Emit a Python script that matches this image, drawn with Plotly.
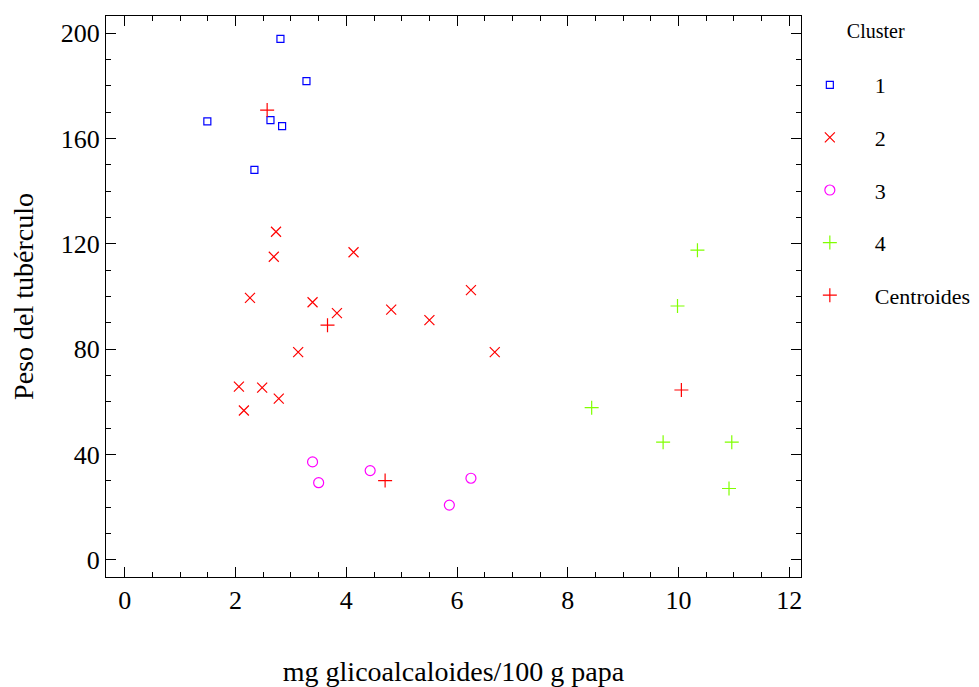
import plotly.graph_objects as go

# Cluster 1
c1_x = [1.49, 2.81, 3.28, 2.63, 2.84, 2.34]
c1_y = [166.5, 197.8, 181.8, 167.0, 164.7, 148.1]
# Cluster 2
c2_x = [2.73, 2.69, 4.13, 2.26, 3.39, 3.83, 4.81, 5.50, 6.25, 6.68, 3.13, 2.06, 2.48, 2.78, 2.15]
c2_y = [124.6, 115.1, 116.8, 99.5, 97.8, 93.7, 95.0, 91.0, 102.4, 78.9, 78.9, 65.8, 65.4, 61.2, 56.7]
# Cluster 3
c3_x = [3.39, 3.50, 4.43, 5.86, 6.25]
c3_y = [37.2, 29.3, 33.9, 20.8, 31.0]
# Cluster 4
c4_x = [10.34, 9.98, 8.43, 9.72, 10.96, 10.91]
c4_y = [117.6, 96.4, 57.8, 44.7, 44.7, 27.1]
# Centroids
cen_x = [2.57, 3.66, 4.70, 10.05]
cen_y = [170.8, 89.1, 30.1, 64.5]

series_names = ["1", "2", "3", "4", "Centroides"]

FONT = "Liberation Serif, Times New Roman, serif"

fig = go.Figure()
specs = [
    (c1_x, c1_y, "square-open", "#0000FF", 7),
    (c2_x, c2_y, "x-thin-open", "#FF0000", 10),
    (c3_x, c3_y, "circle-open", "#FF00FF", 10),
    (c4_x, c4_y, "cross-thin-open", "#80FF00", 10),
    (cen_x, cen_y, "cross-thin-open", "#FF0000", 10),
]
for name, (xs, ys, sym, col, sz) in zip(series_names, specs):
    fig.add_trace(go.Scatter(
        x=xs, y=ys, mode="markers", name=name, legendgroup=name,
        marker=dict(symbol=sym, color=col, size=sz, line=dict(color=col, width=1.2)),
    ))

axis_common = dict(
    showline=True, linecolor="black", linewidth=1, mirror="ticks",
    ticks="inside", ticklen=10, tickcolor="black", tickwidth=1,
    showgrid=False, zeroline=False, automargin=False,
    tickfont=dict(family=FONT, size=26, color="black"),
)
fig.update_xaxes(
    range=[-0.34, 12.21], tick0=0, dtick=2, domain=[0, 695 / 873],
    minor=dict(dtick=0.5, ticks="inside", ticklen=5, tickcolor="black", showgrid=False),
    title=dict(text="mg glicoalcaloides/100 g papa", font=dict(family=FONT, size=28, color="black"), standoff=48),
    **axis_common,
)
fig.update_yaxes(
    range=[-6.5, 206.5], tick0=0, dtick=40,
    minor=dict(dtick=10, ticks="inside", ticklen=5, tickcolor="black", showgrid=False),
    title=dict(text="Peso del tubérculo", font=dict(family=FONT, size=28, color="black"), standoff=22),
    **axis_common,
)
fig.update_layout(
    width=971, height=679,
    margin=dict(l=98, r=0, t=8, b=110),
    plot_bgcolor="white", paper_bgcolor="white",
    font=dict(family=FONT, color="black"),
    showlegend=True,
    legend=dict(
        title=dict(text="&nbsp;&nbsp;&nbsp;&nbsp;&nbsp;&nbsp;&nbsp;&nbsp;&nbsp;&nbsp;&nbsp;&nbsp;Cluster<br> ",
                   font=dict(family=FONT, size=20)),
        font=dict(family=FONT, size=22),
        x=0.7776, y=1.0071, xanchor="left", yanchor="top",
        traceorder="grouped", tracegroupgap=21, itemwidth=80,
        bgcolor="rgba(0,0,0,0)",
    ),
)
fig.write_html("out.html")
